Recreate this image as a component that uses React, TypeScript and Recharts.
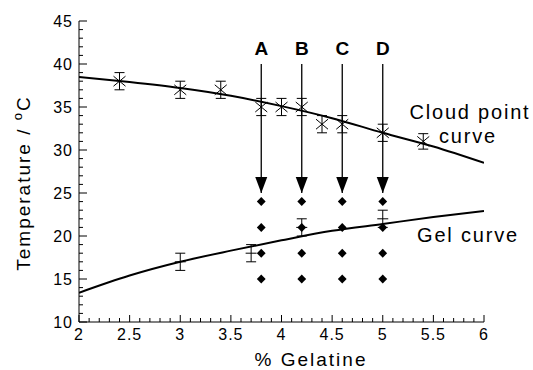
import { ComposedChart, Line, Scatter, XAxis, YAxis, ErrorBar } from "recharts";

// gelatine concentration (%) vs temperature (°C)
const xMajor = [2, 2.5, 3, 3.5, 4, 4.5, 5, 5.5, 6];
const yMajor = [10, 15, 20, 25, 30, 35, 40, 45];

const xTicks: number[] = [];
for (let i = 20; i <= 60; i++) xTicks.push(i / 10);
const yTicks: number[] = [];
for (let i = 10; i <= 45; i++) yTicks.push(i);

// cloud point measurements
const cloudX = [2.4, 3.0, 3.4, 3.8, 4.0, 4.2, 4.4, 4.6, 5.0, 5.4];
const cloudY = [38, 37, 37, 35, 35, 35, 33, 33, 32, 31];
const cloudErr = [1, 1, 1, 1, 1, 1, 1, 1, 1, 0.9];

// fitted cloud point curve
const cloudCurveX = [2, 2.5, 3, 3.5, 4, 4.5, 5, 5.5, 6];
const cloudCurveY = [38.5, 37.9, 37.2, 36.3, 35.1, 33.7, 32.0, 30.4, 28.5];

// gel point measurements
const gelX = [3.0, 3.7, 4.2, 5.0];
const gelY = [17, 18, 21, 22];
const gelErr = [1, 1, 1, 1];

// fitted gel curve
const gelCurveX = [2, 2.5, 3, 3.5, 4, 4.5, 5, 5.5, 6];
const gelCurveY = [13.4, 15.4, 17.0, 18.3, 19.5, 20.6, 21.4, 22.2, 22.9];

// sample grid (diamonds)
const sampleX = [3.8, 4.2, 4.6, 5.0];
const sampleT = [15, 18, 21, 24];

// cooling arrows
const arrowX = [3.8, 4.2, 4.6, 5.0];
const arrowNames = ["A", "B", "C", "D"];
const arrowTop = 40;
const arrowTip = 25;

const cloudPts = cloudX.map((x, i) => ({ x, y: cloudY[i], err: cloudErr[i] }));
const cloudCurve = cloudCurveX.map((x, i) => ({ x, y: cloudCurveY[i] }));
const gelPts = gelX.map((x, i) => ({ x, y: gelY[i], err: gelErr[i] }));
const gelCurve = gelCurveX.map((x, i) => ({ x, y: gelCurveY[i] }));
const samples = sampleX.flatMap((x) => sampleT.map((y) => ({ x, y })));
const arrowLines = arrowX.map((x) => [
  { x, y: arrowTop },
  { x, y: arrowTip },
]);
const arrowHeads = arrowX.map((x) => ({ x, y: arrowTip }));
const arrowLabels = arrowX.map((x, i) => ({ x, y: arrowTop, name: arrowNames[i] }));

const font = "'Liberation Sans', Arial, Helvetica, sans-serif";

const XTick = (props: any) => {
  const { x, y, payload } = props;
  const v = payload.value;
  const major = xMajor.includes(v);
  return (
    <g>
      <line x1={x} x2={x} y1={y} y2={y - (major ? 7 : 4)} stroke="#000" />
      {major && (
        <text x={x} y={y + 18} textAnchor="middle" fontSize={16} fontFamily={font} letterSpacing={1} fill="#000">
          {String(v)}
        </text>
      )}
    </g>
  );
};

const YTick = (props: any) => {
  const { x, y, payload } = props;
  const v = payload.value;
  const major = yMajor.includes(v);
  return (
    <g>
      <line x1={x} x2={x + (major ? 8 : 4)} y1={y} y2={y} stroke="#000" />
      {major && (
        <text x={x - 6} y={y + 6} textAnchor="end" fontSize={16} fontFamily={font} letterSpacing={1} fill="#000">
          {String(v)}
        </text>
      )}
    </g>
  );
};

const Asterisk = (props: any) => {
  const { cx, cy } = props;
  return (
    <g stroke="#000" strokeWidth={1}>
      <line x1={cx - 6} y1={cy - 5} x2={cx + 6} y2={cy + 5} />
      <line x1={cx - 6} y1={cy + 5} x2={cx + 6} y2={cy - 5} />
    </g>
  );
};

const Plus = (props: any) => {
  const { cx, cy } = props;
  return <line x1={cx - 5.5} y1={cy} x2={cx + 5.5} y2={cy} stroke="#000" strokeWidth={1} />;
};

const Diamond = (props: any) => {
  const { cx, cy } = props;
  return <polygon points={`${cx},${cy - 4.5} ${cx + 4.4},${cy} ${cx},${cy + 4.5} ${cx - 4.4},${cy}`} fill="#000" />;
};

const Head = (props: any) => {
  const { cx, cy } = props;
  return <polygon points={`${cx - 6},${cy - 16} ${cx + 6},${cy - 16} ${cx},${cy}`} fill="#000" />;
};

const Letter = (props: any) => {
  const { cx, cy, payload } = props;
  return (
    <text x={cx} y={cy - 9} textAnchor="middle" fontSize={19} fontWeight="bold" fontFamily={font} fill="#000">
      {payload.name}
    </text>
  );
};

export default function App() {
  return (
    <div style={{ position: "absolute", left: 0, top: 0, width: 533, height: 370, background: "#fff" }}>
      <ComposedChart width={533} height={370} margin={{ top: 21, right: 49, bottom: 0, left: 0 }}>
        <XAxis
          type="number"
          dataKey="x"
          domain={[2, 6]}
          ticks={xTicks}
          interval={0}
          tick={XTick}
          tickLine={false}
          tickSize={0}
          tickMargin={0}
          height={48}
          allowDataOverflow
          axisLine={{ stroke: "#000" }}
        />
        <YAxis
          type="number"
          dataKey="y"
          domain={[10, 45]}
          ticks={yTicks}
          interval={0}
          tick={YTick}
          tickLine={false}
          tickSize={0}
          tickMargin={0}
          width={79}
          allowDataOverflow
          axisLine={{ stroke: "#000" }}
        />
        <Line data={cloudCurve} dataKey="y" type="monotone" stroke="#000" strokeWidth={2} dot={false} isAnimationActive={false} />
        <Line data={gelCurve} dataKey="y" type="monotone" stroke="#000" strokeWidth={2} dot={false} isAnimationActive={false} />
        {arrowLines.map((d, i) => (
          <Line key={i} data={d} dataKey="y" stroke="#000" strokeWidth={1.3} dot={false} isAnimationActive={false} />
        ))}
        <Scatter data={arrowHeads} shape={Head} isAnimationActive={false} />
        <Scatter data={arrowLabels} shape={Letter} isAnimationActive={false} />
        <Scatter data={samples} shape={Diamond} isAnimationActive={false} />
        <Scatter data={cloudPts} shape={Asterisk} isAnimationActive={false}>
          <ErrorBar dataKey="err" direction="y" width={5} stroke="#000" strokeWidth={1} isAnimationActive={false} />
        </Scatter>
        <Scatter data={gelPts} shape={Plus} isAnimationActive={false}>
          <ErrorBar dataKey="err" direction="y" width={5} stroke="#000" strokeWidth={1} isAnimationActive={false} />
        </Scatter>
      </ComposedChart>
      <svg width={533} height={370} style={{ position: "absolute", left: 0, top: 0, pointerEvents: "none" }}>
        <g fontFamily={font} fill="#000" fontSize={20} letterSpacing={1.8}>
          <text x={470} y={119} textAnchor="middle">Cloud point</text>
          <text x={468} y={143} textAnchor="middle">curve</text>
          <text x={468} y={242} textAnchor="middle">Gel curve</text>
          <text x={311} y={366} textAnchor="middle" fontSize={19} letterSpacing={2}>% Gelatine</text>
          <text x={30} y={183} transform="rotate(-90, 30, 183)" textAnchor="middle" fontSize={19} letterSpacing={2}>
            Temperature / <tspan dy={-8} fontSize={13}>o</tspan>
            <tspan dy={8}>C</tspan>
          </text>
        </g>
      </svg>
    </div>
  );
}
